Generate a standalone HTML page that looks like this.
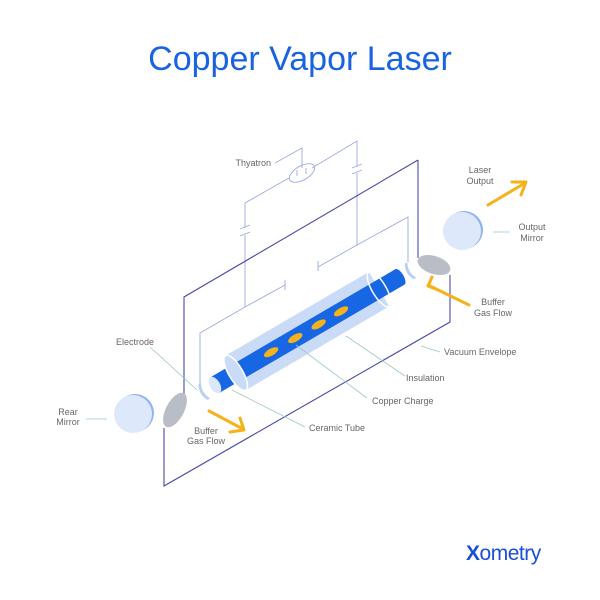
<!DOCTYPE html>
<html><head><style>
body{margin:0;background:#fff;}
svg{display:block;font-family:"Liberation Sans",sans-serif;}
.l{font-size:9px;fill:#666;}
</style></head><body>
<svg width="600" height="600" viewBox="0 0 600 600" xmlns="http://www.w3.org/2000/svg">
<text x="300" y="70" text-anchor="middle" font-size="34" fill="#1a63e0">Copper Vapor Laser</text>

<!-- circuit -->
<g stroke="#9eaae0" stroke-width="0.9" fill="none">
<path d="M275,163 L302,148 L302,168"/>
<ellipse cx="302" cy="173" rx="14" ry="7" transform="rotate(-30 302 173)"/>
<path d="M297,170 v6 M306,168 v6"/>
<path d="M312,168 L357,141 L357,167 M352,168 L362,164 M352,174 L362,170 M357,173 L357,245 L318,267 M318,261 v10 M357,245 L408,217 L408,262"/>
<path d="M289,178 L245,203 L245,228 M240,229 L250,225 M240,236 L250,232 M245,235 L245,307 L285,285 M285,280 v10 M245,307 L200,333 L200,388"/>
</g>

<!-- vacuum envelope -->
<g stroke="#4a4aa8" stroke-width="1.1" fill="none">
<path d="M418,160 L184,297 L184,395"/>
<path d="M418,160 L418,258"/>
<path d="M164,428 L164,486 L450,322 L450,275"/>
</g>

<ellipse cx="175" cy="410" rx="9" ry="19" transform="rotate(28 175 410)" fill="#b9bec6"/>
<ellipse cx="434" cy="265" rx="17" ry="9" transform="rotate(18 434 265)" fill="#b9bec6"/>

<!-- tube -->
<g transform="translate(215,385) rotate(-30.3)">
<rect x="24" y="-20" width="166" height="40" fill="#c9dbf7"/>
<rect x="0" y="-9" width="214" height="18" fill="#1766e4"/>
<ellipse cx="214" cy="0" rx="4" ry="9" fill="#1766e4"/>
<ellipse cx="0" cy="0" rx="5" ry="9" fill="#dbe7fa"/>
<ellipse cx="24" cy="0" rx="7" ry="20" fill="#c9dbf7" stroke="#fff" stroke-width="1.5"/>
<ellipse cx="190" cy="0" rx="7" ry="20" fill="none" stroke="#fff" stroke-width="1.5"/>
<ellipse cx="65" cy="0" rx="8" ry="3.5" fill="#f5b21a"/>
<ellipse cx="93" cy="0" rx="8" ry="3.5" fill="#f5b21a"/>
<ellipse cx="120" cy="0" rx="8" ry="3.5" fill="#f5b21a"/>
<ellipse cx="146" cy="0" rx="8" ry="3.5" fill="#f5b21a"/>
<path d="M-11,-9 q-5,9 0,18 l-3,0 q-5,-9 0,-18z" fill="#b8cff5"/>
<path d="M228,-9 q-5,9 0,18 l-3,0 q-5,-9 0,-18z" fill="#b8cff5"/>
</g>

<circle cx="135" cy="413" r="19" fill="#8fb4ef"/>
<circle cx="133" cy="414" r="19" fill="#dde8fa"/>
<circle cx="464" cy="230" r="19" fill="#8fb4ef"/>
<circle cx="462" cy="231" r="19" fill="#dde8fa"/>

<g stroke="#f5b21a" stroke-width="3" fill="none" stroke-linecap="round" stroke-linejoin="round">
<path d="M488,205 L525,183 M512,182 L526,182 L521,195"/>
<path d="M469,305 L428,285 M432,277 L428,286 L438,290"/>
<path d="M209,411 L243,429 M240,418 L244,430 L230,432"/>
</g>

<g stroke="#9cc8c4" stroke-width="0.8" fill="none">
<path d="M493,232 L510,232"/>
<path d="M421,346 L440,352"/>
<path d="M346,336 L405,376"/>
<path d="M296,345 L367,398"/>
<path d="M232,390 L305,427"/>
<path d="M150,347 L197,390"/>
<path d="M86,419 L107,419"/>
</g>

<text class="l" x="271" y="166" text-anchor="end">Thyatron</text>
<text class="l" x="480" y="173" text-anchor="middle">Laser</text>
<text class="l" x="480" y="184" text-anchor="middle">Output</text>
<text class="l" x="532" y="230" text-anchor="middle">Output</text>
<text class="l" x="532" y="241" text-anchor="middle">Mirror</text>
<text class="l" x="493" y="305" text-anchor="middle">Buffer</text>
<text class="l" x="493" y="316" text-anchor="middle">Gas Flow</text>
<text class="l" x="444" y="355">Vacuum Envelope</text>
<text class="l" x="406" y="381">Insulation</text>
<text class="l" x="372" y="404">Copper Charge</text>
<text class="l" x="309" y="431">Ceramic Tube</text>
<text class="l" x="135" y="345" text-anchor="middle">Electrode</text>
<text class="l" x="68" y="415" text-anchor="middle">Rear</text>
<text class="l" x="68" y="425" text-anchor="middle">Mirror</text>
<text class="l" x="206" y="434" text-anchor="middle">Buffer</text>
<text class="l" x="206" y="444" text-anchor="middle">Gas Flow</text>

<text x="466" y="560" font-size="21" fill="#1a4fd6" font-weight="bold" letter-spacing="-0.5">X<tspan font-weight="normal">ometry</tspan></text>
</svg>
</body></html>
